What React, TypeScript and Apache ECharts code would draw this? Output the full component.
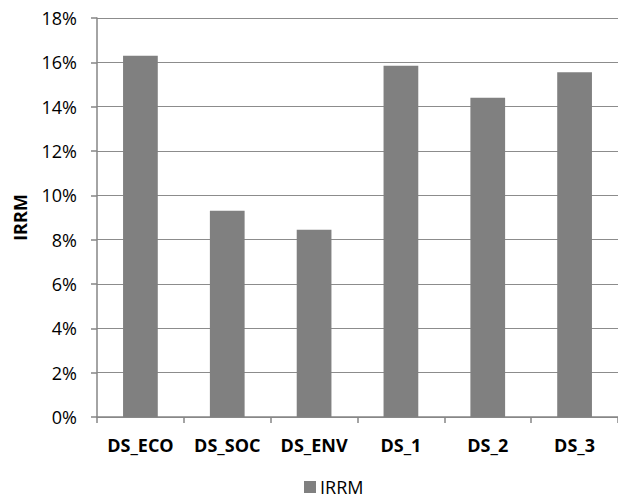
import React, { useEffect, useRef } from "react";
import * as echarts from "echarts";

const categories = ["DS_ECO", "DS_SOC", "DS_ENV", "DS_1", "DS_2", "DS_3"];
const irrmValues = [0.163, 0.093, 0.0845, 0.1585, 0.144, 0.1555];
const seriesName = "IRRM";

export default function App() {
  const ref = useRef<HTMLDivElement>(null);
  useEffect(() => {
    if (!ref.current) return;
    const chart = echarts.init(ref.current, null, { renderer: "svg" });
    const font = "'Open Sans', sans-serif";
    chart.setOption({
      animation: false,
      backgroundColor: "#ffffff",
      textStyle: { fontFamily: font },
      grid: { left: 97, right: -9, top: 18, bottom: 81, containLabel: false },
      legend: {
        data: [seriesName],
        left: 304,
        top: 478,
        itemWidth: 12,
        itemHeight: 12,
        itemGap: 5,
        icon: "rect",
        textStyle: { fontSize: 18, color: "#000", fontFamily: font, padding: [0, 0, 0, -1] },
        padding: 0,
      },
      xAxis: {
        type: "category",
        data: categories,
        axisLine: { lineStyle: { color: "#868686", width: 1.5 } },
        axisTick: { show: true, interval: 0, length: 6, lineStyle: { color: "#868686", width: 1.5 } },
        axisLabel: { interval: 0, fontSize: 18, fontWeight: "bold", color: "#000", margin: 19, fontFamily: font },
        splitLine: { show: false },
      },
      yAxis: {
        type: "value",
        min: 0,
        max: 0.18,
        interval: 0.02,
        name: "IRRM",
        nameLocation: "middle",
        nameGap: 68,
        nameTextStyle: { fontSize: 18, fontWeight: "bold", color: "#000", fontFamily: font },
        axisLine: { show: true, lineStyle: { color: "#868686", width: 1.5 } },
        axisTick: { show: true, length: 6, lineStyle: { color: "#868686", width: 1.5 } },
        axisLabel: {
          fontSize: 18,
          color: "#000",
          margin: 20,
          fontFamily: font,
          formatter: (v: number) => Math.round(v * 100) + "%",
        },
        splitLine: { show: true, lineStyle: { color: "#8c8c8c", width: 1.2 } },
      },
      series: [
        {
          name: seriesName,
          type: "bar",
          data: irrmValues,
          barCategoryGap: "60%",
          itemStyle: { color: "#808080" },
        },
      ],
    });
    return () => chart.dispose();
  }, []);
  return <div ref={ref} style={{ width: 618, height: 498, position: "absolute", left: 0, top: 0 }} />;
}
